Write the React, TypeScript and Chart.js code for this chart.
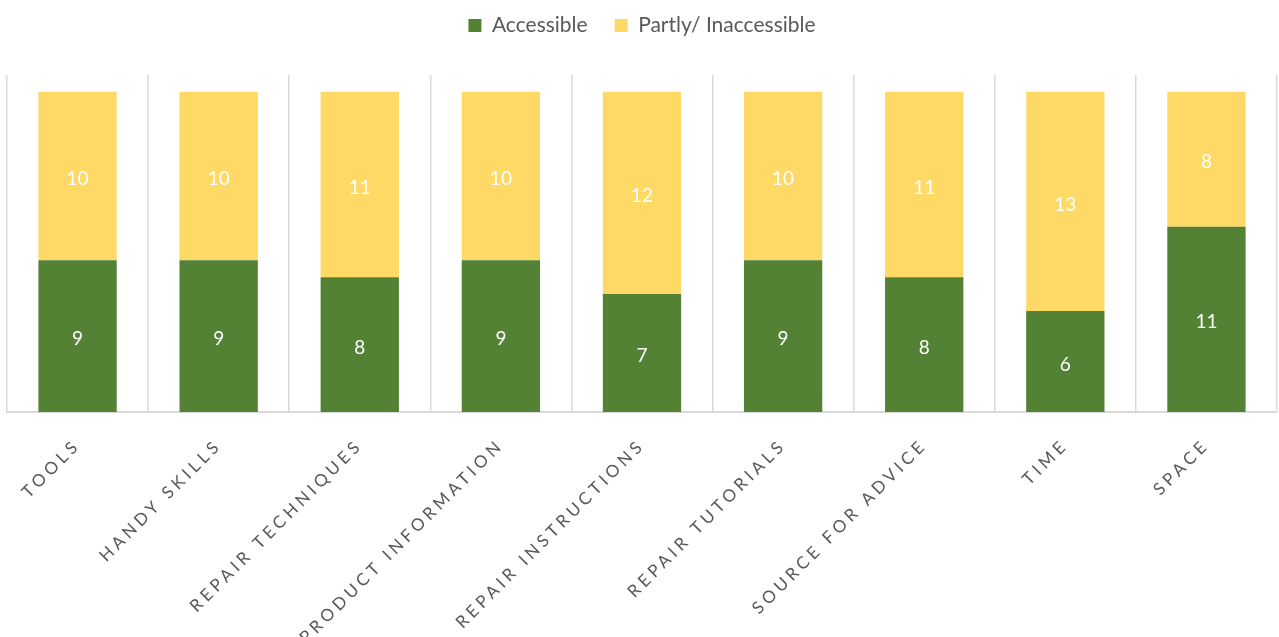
import React, { useEffect, useRef } from "react";
import { Chart, registerables } from "chart.js";

Chart.register(...registerables);

const categories = [
  "TOOLS",
  "HANDY SKILLS",
  "REPAIR TECHNIQUES",
  "PRODUCT INFORMATION",
  "REPAIR INSTRUCTIONS",
  "REPAIR TUTORIALS",
  "SOURCE FOR ADVICE",
  "TIME",
  "SPACE",
];
const accessible = [9, 9, 8, 9, 7, 9, 8, 6, 11];
const inaccessible = [10, 10, 11, 10, 12, 10, 11, 13, 8];
const seriesNames = ["Accessible", "Partly/ Inaccessible"];
const seriesColors = ["#548235", "#FFD966"];
const yMax = 20;

const FONT = "Lato, 'Open Sans', sans-serif";

const layoutPlugin = {
  id: "legendHeight",
  beforeLayout(chart: any) {
    const lg = chart.legend;
    if (lg && !lg.__wrapped) {
      const orig = lg.fit.bind(lg);
      lg.fit = function () {
        orig();
        this.height = 87;
      };
      lg.__wrapped = true;
    }
  },
};

const dataLabelPlugin = {
  id: "dataLabels",
  beforeDraw(chart: any) {
    (chart.ctx as any).letterSpacing = "0px";
  },
  afterDatasetsDraw(chart: any) {
    const ctx = chart.ctx;
    ctx.save();
    ctx.fillStyle = "#ffffff";
    ctx.font = `19px ${FONT}`;
    ctx.textAlign = "center";
    ctx.textBaseline = "middle";
    chart.data.datasets.forEach((ds: any, di: number) => {
      const meta = chart.getDatasetMeta(di);
      meta.data.forEach((el: any, i: number) => {
        const v = ds.data[i];
        const cy = (el.y + el.base) / 2 + 3;
        ctx.fillText(String(v), el.x, cy);
      });
    });
    ctx.restore();
    // letter spacing for the x tick labels (tick layer drawn after datasets, z: 1)
    (ctx as any).letterSpacing = "4px";
  },
  afterDraw(chart: any) {
    (chart.ctx as any).letterSpacing = "0px";
  },
};

export default function App() {
  const ref = useRef<HTMLCanvasElement | null>(null);
  useEffect(() => {
    if (!ref.current) return;
    const chart = new Chart(ref.current, {
      type: "bar",
      data: {
        labels: categories,
        datasets: [
          {
            label: seriesNames[0],
            data: accessible,
            backgroundColor: seriesColors[0],
            barPercentage: 0.555,
            categoryPercentage: 1,
          },
          {
            label: seriesNames[1],
            data: inaccessible,
            backgroundColor: seriesColors[1],
            barPercentage: 0.555,
            categoryPercentage: 1,
          },
        ],
      },
      options: {
        animation: false,
        responsive: false,
        maintainAspectRatio: false,
        layout: { padding: { left: 7, right: 2, top: -12, bottom: 0 } },
        plugins: {
          tooltip: { enabled: false },
          legend: {
            position: "top",
            labels: {
              boxWidth: 13,
              boxHeight: 13,
              padding: 27,
              color: "#595959",
              font: { family: FONT, size: 21 },
            },
          },
        },
        scales: {
          x: {
            stacked: true,
            grid: {
              display: true,
              offset: true,
              color: "#D9D9D9",
              lineWidth: 1.5,
              drawTicks: false,
            },
            border: { display: true, color: "#D9D9D9", width: 2 },
            ticks: {
              z: 1,
              autoSkip: false,
              minRotation: 45,
              maxRotation: 45,
              padding: 23,
              color: "#595959",
              font: { family: FONT, size: 17 },
            },
            afterFit: (scale: any) => {
              scale.height = 225;
            },
          },
          y: {
            stacked: true,
            display: false,
            min: 0,
            max: yMax,
          },
        },
      },
      plugins: [layoutPlugin, dataLabelPlugin],
    });
    return () => chart.destroy();
  }, []);
  return (
    <div style={{ position: "absolute", left: 0, top: 0, width: 1279, height: 637, background: "#fff" }}>
      <canvas ref={ref} width={1279} height={637} style={{ width: 1279, height: 637 }} />
    </div>
  );
}
